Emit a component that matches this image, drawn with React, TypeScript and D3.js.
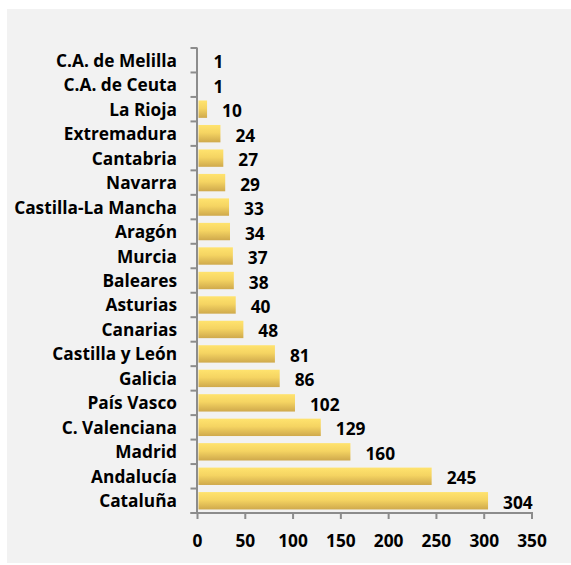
import React from "react";
import * as d3 from "d3";

const categories = [
  "C.A. de Melilla", "C.A. de Ceuta", "La Rioja", "Extremadura", "Cantabria",
  "Navarra", "Castilla-La Mancha", "Aragón", "Murcia", "Baleares", "Asturias",
  "Canarias", "Castilla y León", "Galicia", "País Vasco", "C. Valenciana",
  "Madrid", "Andalucía", "Cataluña",
];
const values = [1, 1, 10, 24, 27, 29, 33, 34, 37, 38, 40, 48, 81, 86, 102, 129, 160, 245, 304];
const xTicks = [0, 50, 100, 150, 200, 250, 300, 350];

const W = 571, H = 565;
const FONT = "'Open Sans', sans-serif";
const FS = 17.3;

export default function App() {
  const x = d3.scaleLinear().domain([0, 350]).range([197.5, 532]);
  const y = d3.scaleBand<string>().domain(categories).range([48, 513]).paddingInner(0.29).paddingOuter(0.145);
  const axisColor = "#8c8c8c";
  const x0 = x(0);
  const yBottom = 513;
  const step = y.step();
  return (
    <svg width={W} height={H} style={{ position: "absolute", left: 0, top: 0 }}>
      <defs>
        <linearGradient id="barGrad" x1="0" y1="0" x2="0" y2="1">
          <stop offset="0" stopColor="#FFE36E" />
          <stop offset="0.45" stopColor="#F5D462" />
          <stop offset="1" stopColor="#CFA94C" />
        </linearGradient>
      </defs>
      <rect x={7} y={9} width={W - 7} height={554} fill="#f2f2f2" />
      {categories.map((c, i) => (
        <rect key={c} x={x0 + 1} y={y(c)!} width={Math.max(0, x(values[i]) - x0 - 1)} height={y.bandwidth()} fill="url(#barGrad)" />
      ))}
      {/* y axis */}
      <line x1={x0 - 0.5} x2={x0 - 0.5} y1={48} y2={yBottom + 1} stroke={axisColor} strokeWidth={2} />
      {d3.range(categories.length + 1).map((i) => (
        <line key={i} x1={x0 - 7} x2={x0} y1={48 + i * step} y2={48 + i * step} stroke={axisColor} strokeWidth={2} />
      ))}
      {/* x axis */}
      <line x1={x0 - 7} x2={x(350) + 1} y1={yBottom} y2={yBottom} stroke={axisColor} strokeWidth={2} />
      {xTicks.map((t) => (
        <g key={t}>
          <line x1={x(t)} x2={x(t)} y1={yBottom} y2={yBottom + 6} stroke={axisColor} strokeWidth={2} />
          <text x={x(t)} y={540} textAnchor="middle" dominantBaseline="central" fontFamily={FONT} fontWeight="bold" fontSize={FS} fill="#000">{t}</text>
        </g>
      ))}
      {categories.map((c, i) => (
        <g key={c}>
          <text x={177} y={y(c)! + y.bandwidth() / 2} textAnchor="end" dominantBaseline="central" fontFamily={FONT} fontWeight="bold" fontSize={FS} fill="#000">{c}</text>
          <text x={x(values[i]) + 15} y={y(c)! + y.bandwidth() / 2 + 1.5} textAnchor="start" dominantBaseline="central" fontFamily={FONT} fontWeight="bold" fontSize={FS} fill="#000">{values[i]}</text>
        </g>
      ))}
    </svg>
  );
}
